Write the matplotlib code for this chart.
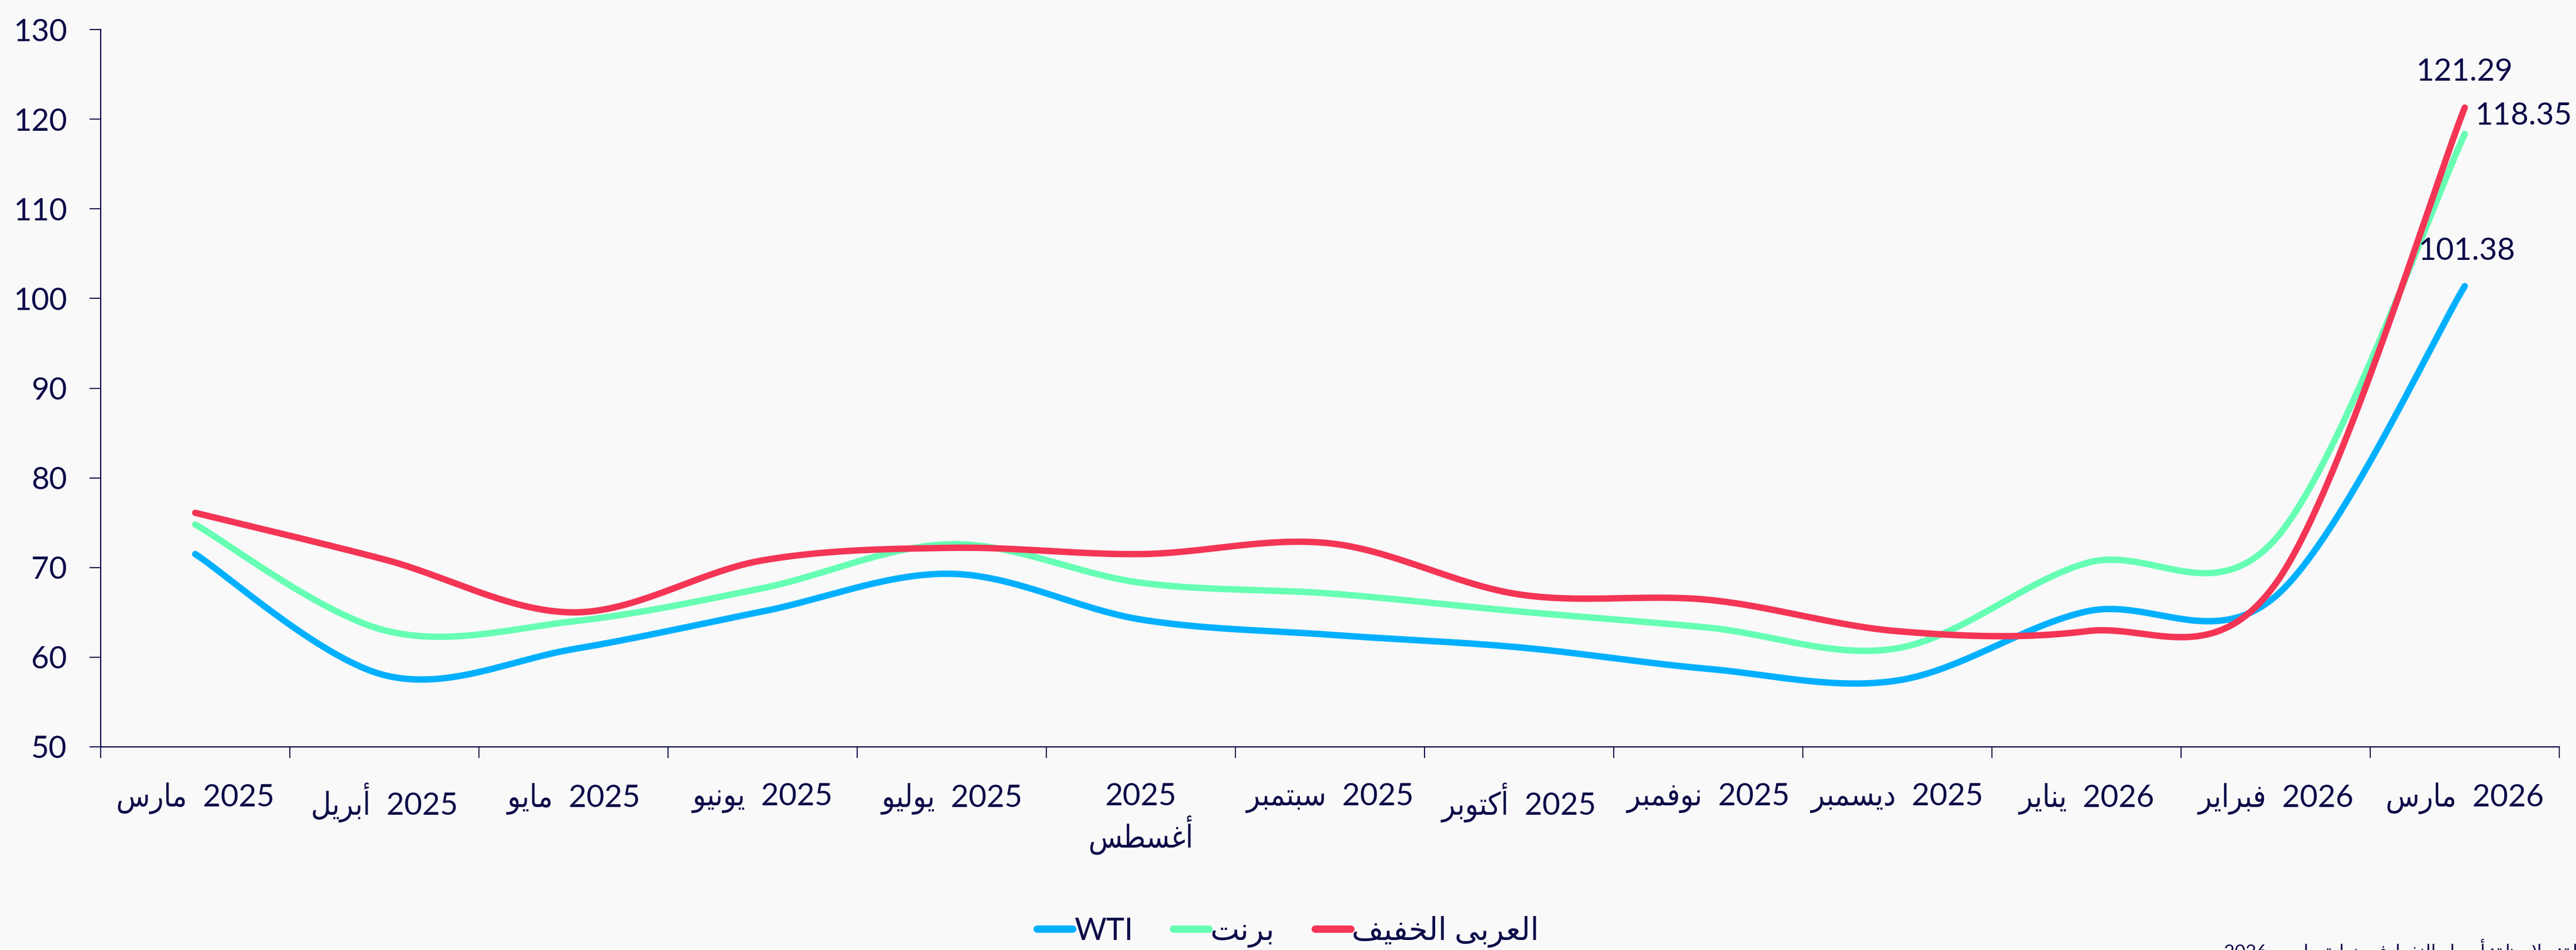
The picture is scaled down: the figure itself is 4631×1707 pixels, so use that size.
import numpy as np
import matplotlib
matplotlib.use("Agg")
import matplotlib.pyplot as plt

# ---------------- data ----------------
months = ["مارس", "أبريل", "مايو", "يونيو", "يوليو", "أغسطس", "سبتمبر",
          "أكتوبر", "نوفمبر", "ديسمبر", "يناير", "فبراير", "مارس"]
years = ["2025", "2025", "2025", "2025", "2025", "2025", "2025",
         "2025", "2025", "2025", "2026", "2026", "2026"]
wrapped_labels = [5]

wti = [71.5, 58.0, 60.9, 65.1, 69.3, 64.2, 62.5, 61.1, 58.7, 57.4, 65.1, 66.8, 101.38]
brent = [74.8, 63.0, 64.0, 67.7, 72.6, 68.3, 67.1, 65.1, 63.3, 61.0, 70.5, 73.2, 118.35]
arab_light = [76.1, 70.9, 65.0, 70.8, 72.2, 71.5, 72.7, 67.0, 66.4, 62.9, 62.9, 68.2, 121.29]

series_names = ["WTI", "برنت", "العربى الخفيف"]
note_text = "ملاحظة: ملاحظة: أسعار النفط في نهاية مارس"
note_year = "2026"

y_ticks = [50, 60, 70, 80, 90, 100, 110, 120, 130]

# ---------------- minimal Arabic shaping (presentation forms, visual order) ----------------
_forms = {
    'ا': ('\uFE8D', '\uFE8E', None, None),
    'أ': ('\uFE83', '\uFE84', None, None),
    'ب': ('\uFE8F', '\uFE90', '\uFE91', '\uFE92'),
    'ة': ('\uFE93', '\uFE94', None, None),
    'ت': ('\uFE95', '\uFE96', '\uFE97', '\uFE98'),
    'ح': ('\uFEA1', '\uFEA2', '\uFEA3', '\uFEA4'),
    'خ': ('\uFEA5', '\uFEA6', '\uFEA7', '\uFEA8'),
    'د': ('\uFEA9', '\uFEAA', None, None),
    'ر': ('\uFEAD', '\uFEAE', None, None),
    'ز': ('\uFEAF', '\uFEB0', None, None),
    'س': ('\uFEB1', '\uFEB2', '\uFEB3', '\uFEB4'),
    'ط': ('\uFEC1', '\uFEC2', '\uFEC3', '\uFEC4'),
    'ظ': ('\uFEC5', '\uFEC6', '\uFEC7', '\uFEC8'),
    'ع': ('\uFEC9', '\uFECA', '\uFECB', '\uFECC'),
    'غ': ('\uFECD', '\uFECE', '\uFECF', '\uFED0'),
    'ف': ('\uFED1', '\uFED2', '\uFED3', '\uFED4'),
    'ك': ('\uFED9', '\uFEDA', '\uFEDB', '\uFEDC'),
    'ل': ('\uFEDD', '\uFEDE', '\uFEDF', '\uFEE0'),
    'م': ('\uFEE1', '\uFEE2', '\uFEE3', '\uFEE4'),
    'ن': ('\uFEE5', '\uFEE6', '\uFEE7', '\uFEE8'),
    'ه': ('\uFEE9', '\uFEEA', '\uFEEB', '\uFEEC'),
    'و': ('\uFEED', '\uFEEE', None, None),
    'ى': ('\uFEEF', '\uFEF0', '\uFBE8', '\uFBE9'),
    'ي': ('\uFEF1', '\uFEF2', '\uFEF3', '\uFEF4'),
}
_lig = {'ا': ('\uFEFB', '\uFEFC'), 'أ': ('\uFEF7', '\uFEF8')}


def _joins_next(c):
    f = _forms.get(c)
    return f is not None and f[2] is not None


def _is_arabic(text):
    return any(c in _forms for c in text)


def vis(text):
    if not _is_arabic(text):
        return text
    chars = list(text)
    n = len(chars)
    res = []
    i = 0
    while i < n:
        c = chars[i]
        prev = chars[i - 1] if i > 0 else None
        prev_con = prev is not None and _joins_next(prev)
        if c not in _forms:
            res.append(c)
            i += 1
            continue
        if c == 'ل' and i + 1 < n and chars[i + 1] in _lig:
            iso, fin = _lig[chars[i + 1]]
            res.append(fin if prev_con else iso)
            i += 2
            continue
        nxt = chars[i + 1] if i + 1 < n else None
        next_con = nxt is not None and nxt in _forms and _joins_next(c)
        iso, fin, ini, med = _forms[c]
        if prev_con and next_con:
            g = med
        elif prev_con:
            g = fin
        elif next_con:
            g = ini
        else:
            g = iso
        res.append(g)
        i += 1
    return ''.join(reversed(res))


# ---------------- smoothing (Excel-like Catmull-Rom Bezier) ----------------
def smooth(xs, ys, steps=60):
    xs = np.asarray(xs, float)
    ys = np.asarray(ys, float)
    n = len(xs)
    px, py = [], []
    for i in range(n - 1):
        x0, y0 = (xs[i - 1], ys[i - 1]) if i > 0 else (xs[i], ys[i])
        x1, y1 = xs[i], ys[i]
        x2, y2 = xs[i + 1], ys[i + 1]
        x3, y3 = (xs[i + 2], ys[i + 2]) if i + 2 < n else (xs[i + 1], ys[i + 1])
        c1x, c1y = x1 + (x2 - x0) / 6, y1 + (y2 - y0) / 6
        c2x, c2y = x2 - (x3 - x1) / 6, y2 - (y3 - y1) / 6
        t = np.linspace(0, 1, steps, endpoint=(i == n - 2))
        a = (1 - t) ** 3
        b = 3 * (1 - t) ** 2 * t
        c = 3 * (1 - t) * t ** 2
        d = t ** 3
        px.append(a * x1 + b * c1x + c * c2x + d * x2)
        py.append(a * y1 + b * c1y + c * c2y + d * y2)
    return np.concatenate(px), np.concatenate(py)


# ---------------- style ----------------
NAVY = '#0c0b48'
BG = '#f9f9f9'
COLORS = ['#00b0ff', '#66ffb3', '#f43555']
FAM = ['Lato', 'DejaVu Sans']
plt.rcParams['font.family'] = FAM

W, H = 4631, 1707
fig = plt.figure(figsize=(W / 100, H / 100), dpi=100, facecolor=BG)
ax = fig.add_axes([181 / W, 1 - 1342 / H, (4601 - 181) / W, (1342 - 53) / H])
ax.set_facecolor(BG)

x = np.arange(len(months))
for vals, name, col in zip([wti, brent, arab_light], series_names, COLORS):
    sx, sy = smooth(x, vals)
    ax.plot(sx, sy, color=col, lw=8.3, solid_capstyle='round',
            solid_joinstyle='round', label=vis(name), zorder=3)

ax.set_xlim(-0.5, len(months) - 0.5)
ax.set_ylim(y_ticks[0], y_ticks[-1])
ax.set_yticks(y_ticks)
ax.set_yticklabels([str(v) for v in y_ticks])

for s in ['top', 'right']:
    ax.spines[s].set_visible(False)
for s in ['left', 'bottom']:
    ax.spines[s].set_color(NAVY)
    ax.spines[s].set_linewidth(1.6)

ax.tick_params(axis='y', direction='out', length=14.4, width=1.4, pad=29,
               colors=NAVY, labelsize=40)

# category boundaries as major ticks, labels at centers (minor)
ax.set_xticks(np.arange(-0.5, len(months), 1.0))
ax.set_xticklabels([])
ax.tick_params(axis='x', which='major', direction='out', length=14.4, width=1.4,
               colors=NAVY)
labels = []
for i, (m, yv) in enumerate(zip(months, years)):
    if i in wrapped_labels:
        labels.append(yv + "\n" + vis(m))
    else:
        labels.append(vis(m) + "  " + yv)
ax.set_xticks(x, minor=True)
ax.set_xticklabels(labels, minor=True, linespacing=1.15, fontstretch='condensed')
ax.tick_params(axis='x', which='minor', length=0, pad=46, labelsize=40,
               labelcolor=NAVY)

# end-point data labels
last = len(months) - 1
ax.annotate(f"{arab_light[-1]:.2f}", (last, arab_light[-1]), xytext=(0, 38),
            textcoords='offset pixels', ha='center', va='bottom',
            fontsize=40, color=NAVY)
ax.annotate(f"{brent[-1]:.2f}", (last, brent[-1]), xytext=(19, 32),
            textcoords='offset pixels', ha='left', va='center',
            fontsize=40, color=NAVY)
ax.annotate(f"{wti[-1]:.2f}", (last, wti[-1]), xytext=(4, 37),
            textcoords='offset pixels', ha='center', va='bottom',
            fontsize=40, color=NAVY)

leg = fig.legend(loc='center', bbox_to_anchor=(0.5, 33 / H), ncol=3,
                 frameon=False, fontsize=40, handlelength=1.15,
                 handletextpad=0.05, columnspacing=1.3, labelcolor=NAVY)
for h in leg.legend_handles:
    h.set_linewidth(9.5)

fig.text(3998 / W, 1 - 1687 / H, note_year + " " + vis(note_text),
         ha='left', va='top', fontsize=24, color=NAVY)

fig.savefig("out.png", dpi=100, facecolor=BG)
